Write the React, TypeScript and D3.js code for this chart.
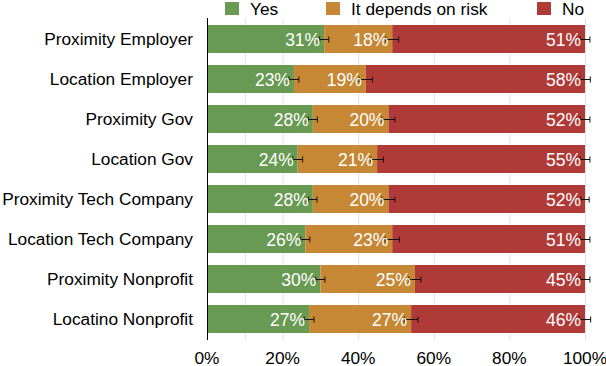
import { useEffect, useRef } from "react";
import * as d3 from "d3";

const categories = [
  "Proximity Employer",
  "Location Employer",
  "Proximity Gov",
  "Location Gov",
  "Proximity Tech Company",
  "Location Tech Company",
  "Proximity Nonprofit",
  "Locatino Nonprofit",
];
const seriesNames = ["Yes", "It depends on risk", "No"];
const yesValues = [31, 23, 28, 24, 28, 26, 30, 27];
const dependsValues = [18, 19, 20, 21, 20, 23, 25, 27];
const noValues = [51, 58, 52, 55, 52, 51, 45, 46];
// error half-widths, in percentage points
const yesErrors = [1.2, 1.3, 1.2, 1.3, 1.1, 1.2, 1.2, 1.3];
const dependsErrors = [1.7, 1.8, 1.7, 1.7, 1.7, 1.9, 1.6, 1.8];
const noErrors = [1.3, 1.4, 1.3, 1.3, 1.1, 1.3, 1.3, 1.5];
const xTicks = [0, 20, 40, 60, 80, 100];
const gridTicks = [10, 20, 40, 60, 80, 100];
const colors = ["#699a53", "#c68834", "#b03a38"];

export default function App() {
  const ref = useRef<SVGSVGElement>(null);

  useEffect(() => {
    const svg = d3.select(ref.current);
    svg.selectAll("*").remove();
    const font = "'Liberation Sans', Arial, Helvetica, sans-serif";

    const x = d3.scaleLinear().domain([0, 100]).range([207, 585]);
    const y = d3.scaleBand<string>()
      .domain(categories)
      .range([19, 339])
      .paddingInner(0.3)
      .paddingOuter(0.15);

    // grid
    svg.append("g")
      .selectAll("line")
      .data(gridTicks)
      .join("line")
      .attr("x1", d => x(d) + 0.5)
      .attr("x2", d => x(d) + 0.5)
      .attr("y1", 18)
      .attr("y2", 340)
      .attr("stroke", "#e3e3e3")
      .attr("stroke-width", 1);

    const series = [yesValues, dependsValues, noValues];
    const errors = [yesErrors, dependsErrors, noErrors];

    const rows = categories.map((c, i) => {
      let acc = 0;
      return series.map((s, k) => {
        const start = acc;
        acc += s[i];
        return { cat: c, k, start, end: acc, value: s[i], err: errors[k][i] };
      });
    });

    const g = svg.append("g");
    rows.forEach(segs => {
      segs.forEach(d => {
        g.append("rect")
          .attr("x", x(d.start))
          .attr("y", y(d.cat)!)
          .attr("width", x(d.end) - x(d.start))
          .attr("height", y.bandwidth())
          .attr("fill", colors[d.k]);
      });
      segs.forEach(d => {
        const cy = Math.round(y(d.cat)! + y.bandwidth() / 2) + 0.5;
        const x0 = x(d.end - d.err);
        const x1 = x(d.end + d.err);
        const eg = g.append("g").attr("stroke", "#111").attr("stroke-width", 1);
        eg.append("line").attr("x1", x0).attr("x2", x1).attr("y1", cy).attr("y2", cy);
        eg.append("line").attr("x1", x0).attr("x2", x0).attr("y1", cy - 3).attr("y2", cy + 3);
        eg.append("line").attr("x1", x1).attr("x2", x1).attr("y1", cy - 3).attr("y2", cy + 3);
      });
      segs.forEach(d => {
        const cy = y(d.cat)! + y.bandwidth() / 2;
        g.append("text")
          .attr("x", x(d.end) - 4)
          .attr("y", cy + 6.5)
          .attr("text-anchor", "end")
          .attr("font-family", font)
          .attr("font-size", 17.5)
          .attr("fill", "#fff")
          .text(`${d.value}%`);
      });
    });

    // category labels
    svg.append("g")
      .selectAll("text")
      .data(categories)
      .join("text")
      .attr("x", 193)
      .attr("y", d => y(d)! + y.bandwidth() / 2 + 6)
      .attr("text-anchor", "end")
      .attr("font-family", font)
      .attr("font-size", 17.3)
      .attr("fill", "#000")
      .text(d => d);

    // y axis line
    svg.append("line")
      .attr("x1", 207.5)
      .attr("x2", 207.5)
      .attr("y1", 18)
      .attr("y2", 340)
      .attr("stroke", "#000")
      .attr("stroke-width", 1);

    // x tick labels
    svg.append("g")
      .selectAll("text")
      .data(xTicks)
      .join("text")
      .attr("x", d => x(d))
      .attr("y", 364)
      .attr("text-anchor", "middle")
      .attr("font-family", font)
      .attr("font-size", 17.3)
      .attr("fill", "#000")
      .text(d => `${d}%`);

    // legend
    const legendX = [225, 326, 537];
    const legend = svg.append("g");
    seriesNames.forEach((name, k) => {
      legend.append("rect")
        .attr("x", legendX[k])
        .attr("y", 2)
        .attr("width", 14)
        .attr("height", 13)
        .attr("fill", colors[k]);
      legend.append("text")
        .attr("x", legendX[k] + 25)
        .attr("y", 15)
        .attr("font-family", font)
        .attr("font-size", 17.3)
        .attr("fill", "#000")
        .text(name);
    });
  }, []);

  return (
    <svg
      ref={ref}
      width={606}
      height={366}
      style={{ position: "absolute", left: 0, top: 0, background: "#fff" }}
    />
  );
}
